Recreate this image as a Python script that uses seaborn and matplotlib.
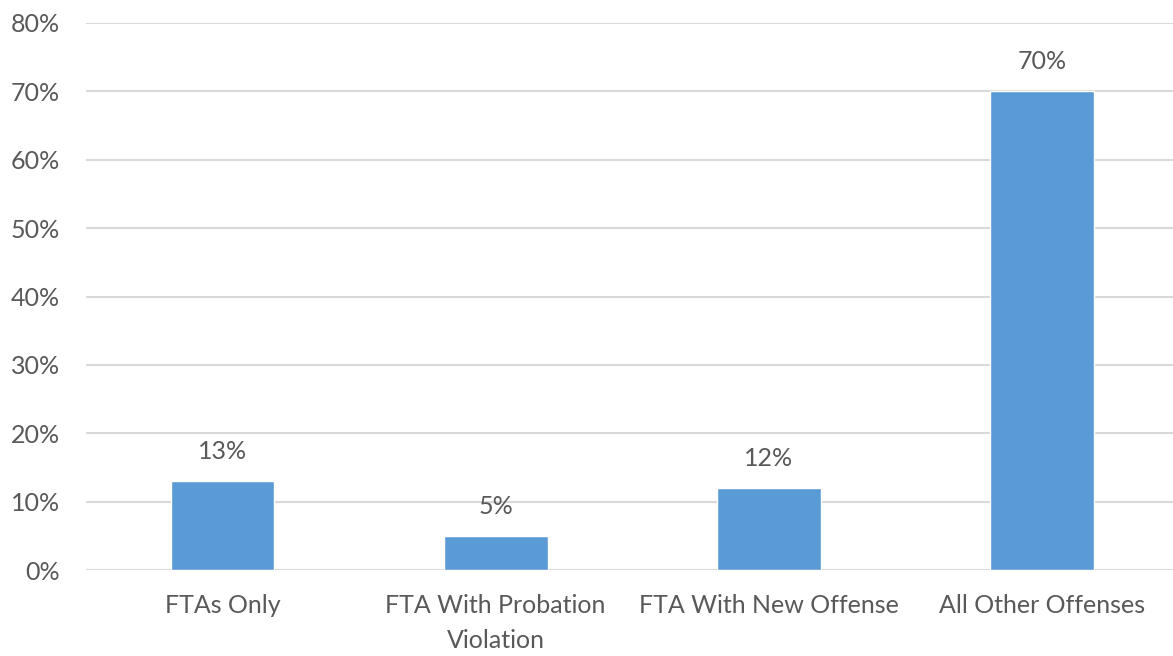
import matplotlib
matplotlib.use("Agg")
import matplotlib.pyplot as plt
import seaborn as sns
import pandas as pd

# Chart data
categories = ["FTAs Only", "FTA With Probation\nViolation", "FTA With New Offense", "All Other Offenses"]
values = [13, 5, 12, 70]
value_labels = ["13%", "5%", "12%", "70%"]
y_ticks = [0, 10, 20, 30, 40, 50, 60, 70, 80]

df = pd.DataFrame({"category": categories, "value": values})

sns.set_theme(style="white")
plt.rcParams["font.family"] = ["Lato", "DejaVu Sans"]

text_color = "#595959"
bar_color = "#5B9BD5"

fig = plt.figure(figsize=(11.73, 6.56), dpi=100)
ax = fig.add_axes([86 / 1173, 1 - 570 / 656, 1 - 86 / 1173, (570 - 23) / 656])

sns.barplot(data=df, x="category", y="value", color=bar_color, width=0.38,
            saturation=1, ax=ax, zorder=3)

# value labels above bars
for i, (v, lab) in enumerate(zip(values, value_labels)):
    ax.annotate(lab, (i, v), xytext=(0, 13), textcoords="offset points",
                ha="center", va="bottom", fontsize=18, color=text_color)

ax.set_ylim(0, 80)
ax.set_xlim(-0.5, 3.48)
ax.set_yticks(y_ticks)
ax.set_yticklabels([f"{t}%" for t in y_ticks])
ax.yaxis.grid(True, color="#D9D9D9", linewidth=1.5, zorder=0)
ax.set_axisbelow(True)
ax.tick_params(axis="both", length=0, labelsize=18, labelcolor=text_color)
ax.tick_params(axis="x", pad=17)
ax.tick_params(axis="y", pad=19)
for lbl in ax.get_xticklabels():
    lbl.set_linespacing(1.65)
ax.set_xlabel("")
ax.set_ylabel("")
for s in ax.spines.values():
    s.set_visible(False)

fig.savefig("out.png", dpi=100)
